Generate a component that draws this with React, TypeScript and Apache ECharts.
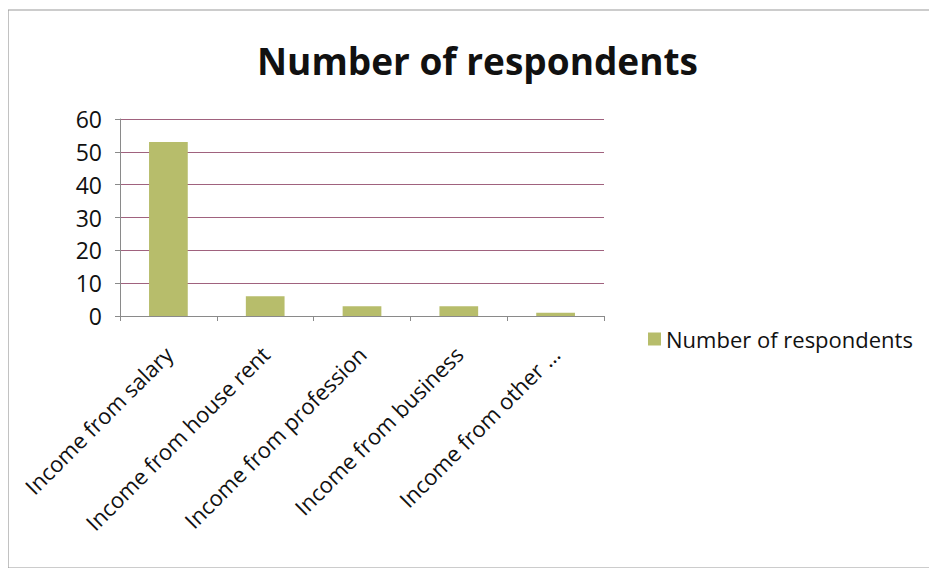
import React, { useEffect, useRef } from "react";
import * as echarts from "echarts";

const categories = [
  "Income from salary",
  "Income from house rent",
  "Income from profession",
  "Income from business",
  "Income from other ...",
];
const respondents = [53, 6, 3, 3, 1];
const seriesName = "Number of respondents";
const titleText = "Number of respondents";

export default function App() {
  const ref = useRef<HTMLDivElement>(null);
  useEffect(() => {
    if (!ref.current) return;
    const chart = echarts.init(ref.current, null, { renderer: "svg" });
    const font = "Open Sans";
    chart.setOption({
      animation: false,
      backgroundColor: "#ffffff",
      textStyle: { fontFamily: font },
      title: {
        text: titleText,
        left: 252,
        top: 37,
        textStyle: { fontFamily: font, fontSize: 37, fontWeight: "bold", color: "#111" },
      },
      graphic: [
        {
          type: "rect",
          shape: { x: 8, y: 10, width: 922, height: 558 },
          style: { fill: "none", stroke: "#9a9a9a", lineWidth: 1.2 },
          silent: true,
        },
      ],
      legend: {
        data: [seriesName],
        left: 643,
        top: 323,
        itemWidth: 13,
        itemHeight: 13,
        itemGap: 8,
        icon: "rect",
        textStyle: { fontFamily: font, fontSize: 22, color: "#111" },
      },
      grid: { left: 120, right: 333, top: 119, bottom: 260 },
      xAxis: {
        type: "category",
        data: categories,
        axisLine: { lineStyle: { color: "#8a8a8a", width: 1 } },
        axisTick: { show: true, alignWithLabel: false, length: 5, lineStyle: { color: "#8a8a8a" } },
        axisLabel: {
          rotate: 45,
          interval: 0,
          fontSize: 22,
          color: "#111",
          fontFamily: font,
          margin: 34,
        },
      },
      yAxis: {
        type: "value",
        min: 0,
        max: 60,
        interval: 10,
        axisLine: { show: true, lineStyle: { color: "#8a8a8a" } },
        axisTick: { show: true, inside: false, length: 5, lineStyle: { color: "#8a8a8a" } },
        axisLabel: { fontSize: 23, color: "#111", fontFamily: font, margin: 18 },
        splitLine: { lineStyle: { color: "#a0627e", width: 1 } },
      },
      series: [
        {
          name: seriesName,
          type: "bar",
          data: respondents,
          barWidth: "40%",
          itemStyle: { color: "#b7bd6b" },
        },
      ],
    });
    return () => chart.dispose();
  }, []);
  return <div ref={ref} style={{ width: 937, height: 576, margin: -8 }} />;
}
